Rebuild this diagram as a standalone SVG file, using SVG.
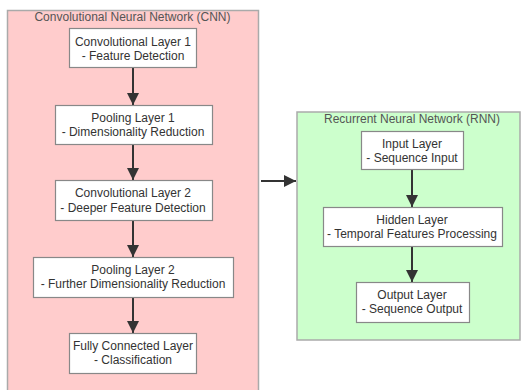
<svg xmlns="http://www.w3.org/2000/svg" width="523" height="390" viewBox="0 0 523 390">
<defs>
<style>
.cl{stroke:#aaaaaa;stroke-width:1.5}
.cnn{fill:#ffcccc}
.rnn{fill:#ccffcc}
.nd{fill:#ffffff;stroke:#888888;stroke-width:1.2}
.t{font-family:"Liberation Sans",Arial,sans-serif;font-size:12px;fill:#333333;text-anchor:middle}
.ct{font-family:"Liberation Sans",Arial,sans-serif;font-size:12px;fill:#555555;text-anchor:middle}
.e{stroke:#333333;stroke-width:2;fill:none}
</style>
<marker id="ah" viewBox="0 0 10 10" refX="10" refY="5" markerWidth="6" markerHeight="6" markerUnits="userSpaceOnUse" orient="auto">
<path d="M0,0 L10,5 L0,10 z" fill="#333333"/>
</marker>
<marker id="ah2" viewBox="0 0 10 10" refX="10" refY="5" markerWidth="12" markerHeight="12" markerUnits="userSpaceOnUse" orient="auto">
<path d="M0,0 L10,5 L0,10 z" fill="#333333"/>
</marker>
</defs>
<g id="cluster-cnn">
<rect class="cl cnn" x="7.5" y="10.5" width="251" height="390"/>
<text class="ct" x="132.5" y="21">Convolutional Neural Network (CNN)</text>
</g>
<g id="cluster-rnn">
<rect class="cl rnn" x="297" y="112" width="223" height="228"/>
<text class="ct" x="412" y="123">Recurrent Neural Network (RNN)</text>
</g>
<g id="connectors">
<line class="e" x1="133" y1="67" x2="133" y2="105" marker-end="url(#ah2)"/>
<line class="e" x1="133" y1="144" x2="133" y2="180" marker-end="url(#ah2)"/>
<line class="e" x1="133" y1="220" x2="133" y2="257" marker-end="url(#ah2)"/>
<line class="e" x1="133" y1="297" x2="133" y2="333" marker-end="url(#ah2)"/>
<line class="e" x1="261" y1="181" x2="296" y2="181" marker-end="url(#ah2)"/>
<line class="e" x1="412" y1="169" x2="412" y2="207" marker-end="url(#ah2)"/>
<line class="e" x1="412" y1="246" x2="412" y2="282" marker-end="url(#ah2)"/>
</g>
<g id="conv1">
<rect class="nd" x="69.5" y="28.5" width="127" height="39"/>
<text class="t" x="133" y="46">Convolutional Layer 1</text>
<text class="t" x="133" y="60">- Feature Detection</text>
</g>
<g id="pool1">
<rect class="nd" x="55.5" y="105.5" width="157" height="39"/>
<text class="t" x="133" y="122">Pooling Layer 1</text>
<text class="t" x="133" y="136">- Dimensionality Reduction</text>
</g>
<g id="conv2">
<rect class="nd" x="55.5" y="180.5" width="157" height="40"/>
<text class="t" x="133" y="197">Convolutional Layer 2</text>
<text class="t" x="133" y="212">- Deeper Feature Detection</text>
</g>
<g id="pool2">
<rect class="nd" x="33.5" y="257.5" width="200" height="40"/>
<text class="t" x="133" y="274">Pooling Layer 2</text>
<text class="t" x="133" y="288">- Further Dimensionality Reduction</text>
</g>
<g id="fc">
<rect class="nd" x="69.5" y="333.5" width="127" height="40"/>
<text class="t" x="133" y="350">Fully Connected Layer</text>
<text class="t" x="133" y="364">- Classification</text>
</g>
<g id="input">
<rect class="nd" x="361.5" y="131.5" width="102" height="38"/>
<text class="t" x="412" y="148">Input Layer</text>
<text class="t" x="412" y="162">- Sequence Input</text>
</g>
<g id="hidden">
<rect class="nd" x="323.5" y="207.5" width="179" height="39"/>
<text class="t" x="412" y="224">Hidden Layer</text>
<text class="t" x="412" y="238">- Temporal Features Processing</text>
</g>
<g id="output">
<rect class="nd" x="356.5" y="282.5" width="113" height="40"/>
<text class="t" x="412" y="299">Output Layer</text>
<text class="t" x="412" y="313">- Sequence Output</text>
</g>
</svg>
